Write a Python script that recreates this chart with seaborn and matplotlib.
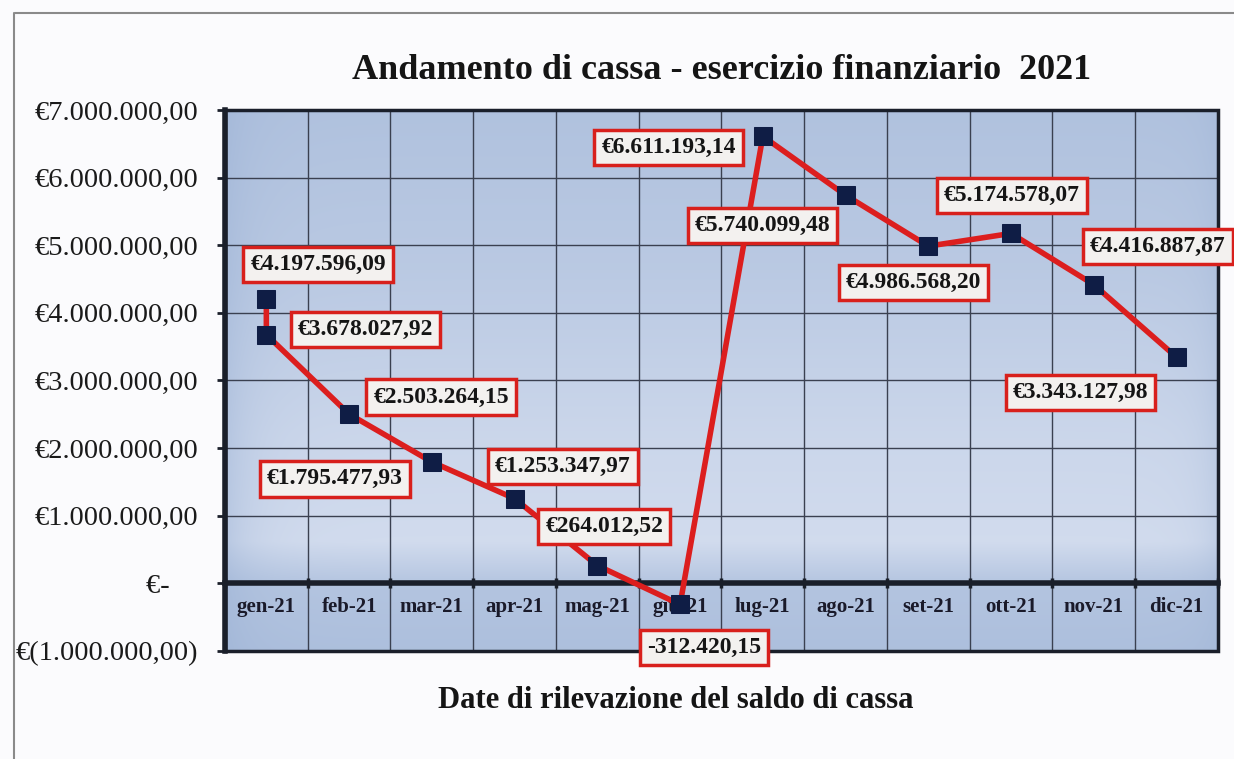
import numpy as np
import seaborn as sns
import matplotlib.pyplot as plt
from matplotlib.patches import Rectangle
from matplotlib.lines import Line2D

# data
months = ['gen-21', 'feb-21', 'mar-21', 'apr-21', 'mag-21', 'giu-21',
          'lug-21', 'ago-21', 'set-21', 'ott-21', 'nov-21', 'dic-21']
point_months = ['gen-21', 'gen-21', 'feb-21', 'mar-21', 'apr-21', 'mag-21', 'giu-21',
                'lug-21', 'ago-21', 'set-21', 'ott-21', 'nov-21', 'dic-21']
saldo = [4197596.09, 3678027.92, 2503264.15, 1795477.93, 1253347.97, 264012.52,
         -312420.15, 6611193.14, 5740099.48, 4986568.20, 5174578.07, 4416887.87,
         3343127.98]
point_labels = ['€4.197.596,09', '€3.678.027,92', '€2.503.264,15', '€1.795.477,93',
                '€1.253.347,97', '€264.012,52', '-312.420,15', '€6.611.193,14',
                '€5.740.099,48', '€4.986.568,20', '€5.174.578,07', '€4.416.887,87',
                '€3.343.127,98']
ytick_values = [-1e6, 0, 1e6, 2e6, 3e6, 4e6, 5e6, 6e6, 7e6]
ytick_labels = ['€(1.000.000,00)', '€-    ', '€1.000.000,00', '€2.000.000,00',
                '€3.000.000,00', '€4.000.000,00', '€5.000.000,00', '€6.000.000,00',
                '€7.000.000,00']

# label box offsets from each point, in pixels
label_offsets = [(52, 35), (99, 5), (92, 17), (-97, -17), (48, 32), (7, 39), (24, -43),
                 (-94, -11), (-83, -30), (-15, -36), (1, 38), (64, 38), (-96, -35)]

sns.set_theme(style='white')
plt.rcParams['font.family'] = ['Liberation Serif', 'DejaVu Serif']

fig = plt.figure(figsize=(12.34, 7.59), dpi=100)
fig.patch.set_facecolor('#fbfbfd')
ax = fig.add_axes([0.1823, 0.1423, 0.8047, 0.7128])

# gradient plot area background
t = np.linspace(0, 1, 200)
s = np.linspace(0, 1, 300)
w = np.interp(t, [0, 0.3, 0.6, 0.8, 0.88, 1], [0.35, 0.5, 0.75, 0.85, 0.4, 0.3])
edge = 1 - 0.45 * np.exp(-s / 0.03) - 0.3 * np.exp(-(1 - s) / 0.02)
blue = np.array([0.60, 0.69, 0.83])
light = np.array([0.86, 0.89, 0.95])
ww = w[:, None] * edge[None, :]
img = blue + (light - blue) * ww[..., None]
ax.imshow(img, extent=[-0.5, 11.5, -1e6, 7e6], aspect='auto', zorder=0,
          interpolation='bilinear')

xpos = [months.index(m) for m in point_months]
sns.lineplot(x=xpos, y=saldo, ax=ax, sort=False, estimator=None, legend=False,
             color='#dc1e1e', linewidth=4, marker='s', markersize=13,
             markerfacecolor='#0f1d45', markeredgecolor='#0f1d45', zorder=5)

for x, y, txt, (dx, dy) in zip(xpos, saldo, point_labels, label_offsets):
    ax.annotate(txt, xy=(x, y), xytext=(dx, dy), textcoords='offset pixels',
                ha='center', va='center', fontsize=17, fontweight='bold',
                color='#151515', annotation_clip=False, zorder=8,
                bbox=dict(boxstyle='square,pad=0.3', fc='#f3f1ef', ec='#d8201c', lw=2.5))

ax.set_xlim(-0.5, 11.5)
ax.set_ylim(-1e6, 7e6)
ax.set_xticks(range(12))
ax.set_xticks(np.arange(-0.5, 12, 1), minor=True)
ax.set_yticks(ytick_values)

ax.spines['bottom'].set_position(('data', 0))
for side in ['left', 'bottom']:
    ax.spines[side].set_linewidth(4)
    ax.spines[side].set_color('#1a1f2a')
for side in ['top', 'right']:
    ax.spines[side].set_linewidth(2)
    ax.spines[side].set_color('#1a1f2a')

ax.tick_params(axis='x', which='major', length=0, pad=10, bottom=True)
ax.tick_params(axis='x', which='minor', length=7, width=2.5, direction='inout',
               color='#1a1f2a', bottom=True)
ax.tick_params(axis='y', length=6, width=2, direction='out', pad=13,
               left=True, color='#1a1f2a')

ax.set_xticklabels(months, fontsize=15, fontweight='bold', color='#1a1a2a')
ax.set_yticklabels(ytick_labels, fontsize=20.5, color='#1a1a1a')

ax.set_axisbelow(True)
ax.grid(axis='y', which='major', color='#3a4050', lw=1)
ax.grid(axis='x', which='minor', color='#3a4050', lw=1)
ax.grid(axis='x', which='major', visible=False)

ax.add_patch(Rectangle((0, 0), 1, 1, transform=ax.transAxes, fill=False,
                       ec='#1a1f2a', lw=2.5, clip_on=False, zorder=6))

ax.set_title('Andamento di cassa - esercizio finanziario  2021', fontsize=26,
             fontweight='bold', pad=22, color='#151515')
fig.text(676 / 1234, 1 - 700 / 759, 'Date di rilevazione del saldo di cassa',
         ha='center', va='center', fontsize=22, fontweight='bold', color='#151515')

# scanned page frame lines
fig.add_artist(Line2D([15 / 1234, 1], [1 - 13 / 759] * 2, color='#8a8a8a', lw=1.5))
fig.add_artist(Line2D([14 / 1234] * 2, [0, 1 - 13 / 759], color='#8a8a8a', lw=1.5))

fig.savefig('out.png', dpi=100)
